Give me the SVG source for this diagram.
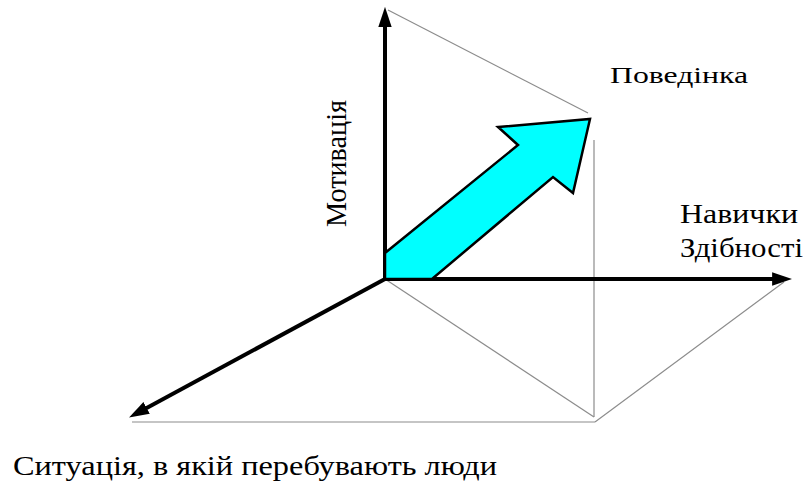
<svg xmlns="http://www.w3.org/2000/svg" width="806" height="481" viewBox="0 0 806 481">
  <style>
    .axis { stroke: #000; stroke-width: 4; fill: none; marker-end: url(#ah); }
    .thin { stroke: #8c8c8c; stroke-width: 1.2; fill: none; }
    text { fill: #000; }
  </style>
  <defs>
    <marker id="ah" markerUnits="userSpaceOnUse" markerWidth="20" markerHeight="16" viewBox="0 0 18 14" refX="8" refY="7" orient="auto">
      <path d="M0,1 L18,7 L0,13 z" fill="#000"/>
    </marker>
  </defs>
  <rect width="806" height="481" fill="#fff"/>
  <g id="connectors">
    <line class="thin" x1="388" y1="10" x2="588" y2="113"/>
    <line class="thin" x1="594" y1="140" x2="594" y2="417"/>
    <line class="thin" x1="385" y1="279" x2="594" y2="417"/>
    <line class="thin" x1="132" y1="422" x2="595" y2="422"/>
    <line class="thin" x1="595" y1="422" x2="784" y2="282"/>
    <line class="axis" x1="385" y1="281" x2="385" y2="18"/>
    <line class="axis" x1="383" y1="279" x2="781" y2="279"/>
    <line class="axis" x1="385" y1="279" x2="138.8" y2="412.2"/>
  </g>
  <g id="behavior-arrow">
    <polygon points="385,253 518,145 498,127 590,119 573,193 553,177 432,279 385,279" fill="#00ffff" stroke="#000" stroke-width="2.5" stroke-linejoin="miter"/>
  </g>
  <g font-family="Liberation Serif, Times New Roman, DejaVu Serif, serif">
  <g id="label-behavior">
    <text x="610" y="83" font-size="24" textLength="138" lengthAdjust="spacingAndGlyphs">Поведінка</text>
  </g>
  <g id="label-skills">
    <text x="680" y="223" font-size="27" textLength="118" lengthAdjust="spacingAndGlyphs">Навички</text>
    <text x="680" y="257" font-size="27" textLength="123" lengthAdjust="spacingAndGlyphs">Здібності</text>
  </g>
  <g id="label-motivation">
    <text transform="translate(346,227) rotate(-90)" font-size="30" textLength="127" lengthAdjust="spacingAndGlyphs">Мотивація</text>
  </g>
  <g id="label-situation">
    <text x="13" y="475" font-size="27" textLength="484" lengthAdjust="spacingAndGlyphs">Ситуація, в якій перебувають люди</text>
  </g>
  </g>
</svg>
